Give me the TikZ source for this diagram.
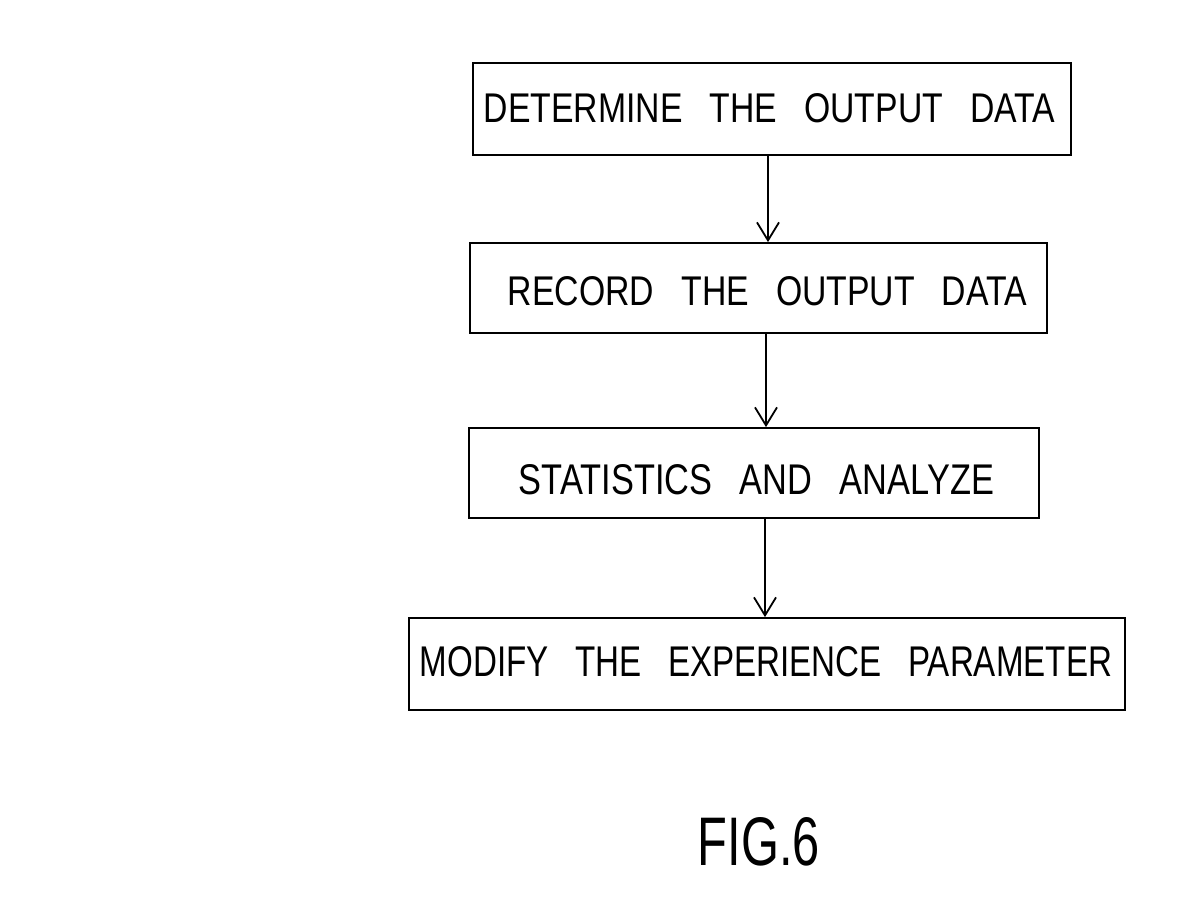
\documentclass[tikz,border=0pt]{standalone}
\usepackage{fontspec}
\setmainfont{Liberation Sans}
\usetikzlibrary{arrows.meta}
\newcommand{\wg}{\hspace{0.8em}}
\begin{document}
\begin{tikzpicture}[x=1pt,y=-1pt,
  stepbox/.style={draw,line width=1.8pt,rectangle,inner sep=0pt},
  lbl/.style={inner sep=0pt,anchor=center},
  arr/.style={line width=1.8pt,-{Straight Barb[length=18pt,width=22pt,line width=1.8pt]}}]
\useasboundingbox[fill=white] (0,0) rectangle (1187,897);
% boxes
\node[stepbox,minimum width=598pt,minimum height=92pt] (b1) at (772,109) {};
\node[stepbox,minimum width=577pt,minimum height=90pt] (b2) at (758.5,288) {};
\node[stepbox,minimum width=570pt,minimum height=90pt] (b3) at (754,473) {};
\node[stepbox,minimum width=716pt,minimum height=92pt] (b4) at (767,664) {};
% texts
\node[lbl] (t1) at (769.5,108.5) {\resizebox{571pt}{29pt}{DETERMINE\wg THE\wg OUTPUT\wg DATA}};
\node[lbl] (t2) at (767.5,291) {\resizebox{519pt}{29pt}{RECORD\wg THE\wg OUTPUT\wg DATA}};
\node[lbl] (t3) at (756.5,480) {\resizebox{475pt}{30pt}{STATISTICS\wg AND\wg ANALYZE}};
\node[lbl] (t4) at (766,662) {\resizebox{692pt}{30pt}{MODIFY\wg THE\wg EXPERIENCE\wg PARAMETER}};
\node[lbl] (fig) at (759,842) {\resizebox{122pt}{48pt}{FIG.6}};
% connector anchor points
\coordinate (a1s) at (768,0 |- b1.south);
\coordinate (a1e) at (768,0 |- b2.north);
\coordinate (a2s) at (766,0 |- b2.south);
\coordinate (a2e) at (766,0 |- b3.north);
\coordinate (a3s) at (765,0 |- b3.south);
\coordinate (a3e) at (765,0 |- b4.north);
\draw[arr] (a1s) -- (a1e);
\draw[arr] (a2s) -- (a2e);
\draw[arr] (a3s) -- (a3e);
\end{tikzpicture}
\end{document}
